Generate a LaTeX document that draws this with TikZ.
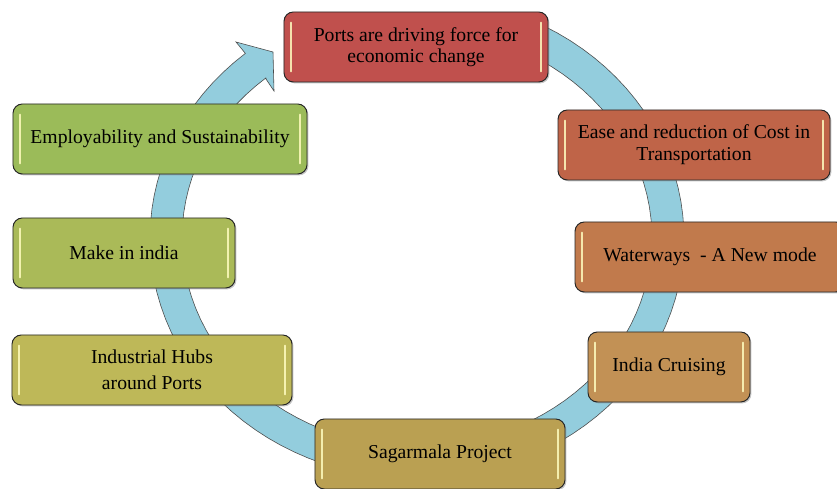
\documentclass[tikz,border=0pt]{standalone}
\usepackage{fontspec}
\setmainfont{Liberation Serif}
\usetikzlibrary{shadows}

\definecolor{ringblue}{RGB}{147,205,221}
\definecolor{portred}{RGB}{192,80,77}
\definecolor{costred}{RGB}{191,100,72}
\definecolor{waterbrown}{RGB}{193,122,76}
\definecolor{cruiseochre}{RGB}{194,145,85}
\definecolor{sagarochre}{RGB}{186,160,82}
\definecolor{hubolive}{RGB}{190,184,88}
\definecolor{makegreen}{RGB}{170,186,88}
\definecolor{employgreen}{RGB}{155,187,89}

\begin{document}
\begin{tikzpicture}[x=0.03cm, y=-0.03cm]
    % Define styles
    \tikzstyle{stage} = [rectangle, draw=black!85, line width=0.8pt, rounded corners=8pt, minimum height=2.1cm, align=center, inner sep=0pt, font=\fontsize{16.8}{17.5}\selectfont, text=black, drop shadow={shadow xshift=1.2pt, shadow yshift=-1.2pt, opacity=0.45}, path picture={\draw[white!75!yellow, line width=1.6pt, line cap=round, opacity=0.85] ([xshift=6pt,yshift=-9pt]path picture bounding box.north west) -- ([xshift=6pt,yshift=9pt]path picture bounding box.south west) ([xshift=-6pt,yshift=-9pt]path picture bounding box.north east) -- ([xshift=-6pt,yshift=9pt]path picture bounding box.south east);}]
    \tikzstyle{ring} = [fill=ringblue, draw=black!70, line width=0.5pt]

    \fill[white] (0,0) rectangle (837,489);
    \useasboundingbox (0,0) rectangle (837,489);

    % Cycle arrow
    \filldraw[ring] plot[domain=65:-230, samples=90, variable=\t] ({417+267*cos(\t)},{238-241*sin(\t)})
        -- (236,42) -- (273,52) -- (274,91) -- (266,79)
        -- plot[domain=-230:65, samples=90, variable=\t] ({417+235*cos(\t)},{238-209*sin(\t)}) -- cycle;

    % Nodes
    \node[stage, fill=portred, minimum width=7.92cm] (ports) at (416,47) {Ports are driving force for\\economic change};
    \node[stage, fill=costred, minimum width=8.16cm] (cost) at (694,145) {Ease and reduction of Cost in\\[1pt]Transportation};
    \node[stage, fill=waterbrown, minimum width=8.1cm] (water) at (710,257) {Waterways\ \ - A New mode};
    \node[stage, fill=cruiseochre, minimum width=4.86cm] (cruise) at (669,367) {India Cruising};
    \node[stage, fill=sagarochre, minimum width=7.5cm] (sagar) at (440,454) {Sagarmala Project};
    \node[stage, fill=hubolive, minimum width=8.4cm] (hubs) at (152,370) {Industrial Hubs\\[5pt]around Ports};
    \node[stage, fill=makegreen, minimum width=6.66cm] (make) at (124,253) {Make in india};
    \node[stage, fill=employgreen, minimum width=8.82cm] (employ) at (160,139) {Employability and Sustainability};
\end{tikzpicture}
\end{document}
